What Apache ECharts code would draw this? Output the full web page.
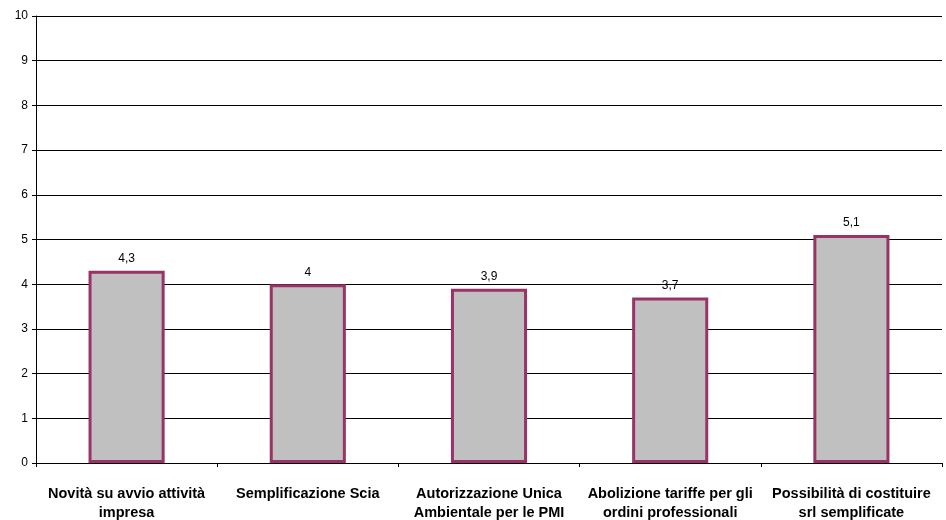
<!DOCTYPE html>
<html>
<head>
<meta charset="utf-8">
<script src="https://cdn.jsdelivr.net/npm/echarts@6/dist/echarts.min.js"></script>
<style>
html, body { margin: 0; padding: 0; background: #fff; }
#main { width: 946px; height: 520px; }
</style>
</head>
<body>
<div id="main"></div>
<script>
var categories = [
    'Novità su avvio attività\nimpresa',
    'Semplificazione Scia',
    'Autorizzazione Unica\nAmbientale per le PMI',
    'Abolizione tariffe per gli\nordini professionali',
    'Possibilità di costituire\nsrl semplificate'
];
var values = [4.3, 4, 3.9, 3.7, 5.1];

var myChart = echarts.init(document.getElementById('main'));
var option = {
    animation: false,
    grid: { left: 36, right: 4, top: 16, bottom: 57, containLabel: false, outerBoundsMode: 'none' },
    xAxis: {
        type: 'category',
        data: categories,
        axisLine: { lineStyle: { color: '#000', width: 1 } },
        axisTick: { show: true, length: 4, lineStyle: { color: '#000' } },
        axisLabel: {
            interval: 0,
            color: '#000',
            fontFamily: 'Liberation Sans',
            fontWeight: 'bold',
            fontSize: 14.5,
            lineHeight: 19,
            margin: 21
        }
    },
    yAxis: {
        type: 'value',
        min: 0,
        max: 10,
        interval: 1,
        axisLine: { show: true, lineStyle: { color: '#000', width: 1 } },
        axisTick: { show: true, length: 4, lineStyle: { color: '#000' } },
        axisLabel: {
            color: '#000',
            fontFamily: 'Liberation Sans',
            fontSize: 12,
            margin: 8
        },
        splitLine: { lineStyle: { color: '#000', width: 1 } }
    },
    series: [{
        type: 'bar',
        data: values,
        barWidth: '42%',
        itemStyle: {
            color: '#C0C0C0',
            borderColor: '#993366',
            borderWidth: 3
        },
        label: {
            show: true,
            position: 'top',
            distance: 6,
            color: '#000',
            fontFamily: 'Liberation Sans',
            fontSize: 12,
            formatter: function (p) { return String(p.value).replace('.', ','); }
        }
    }]
};
myChart.setOption(option);
</script>
</body>
</html>
